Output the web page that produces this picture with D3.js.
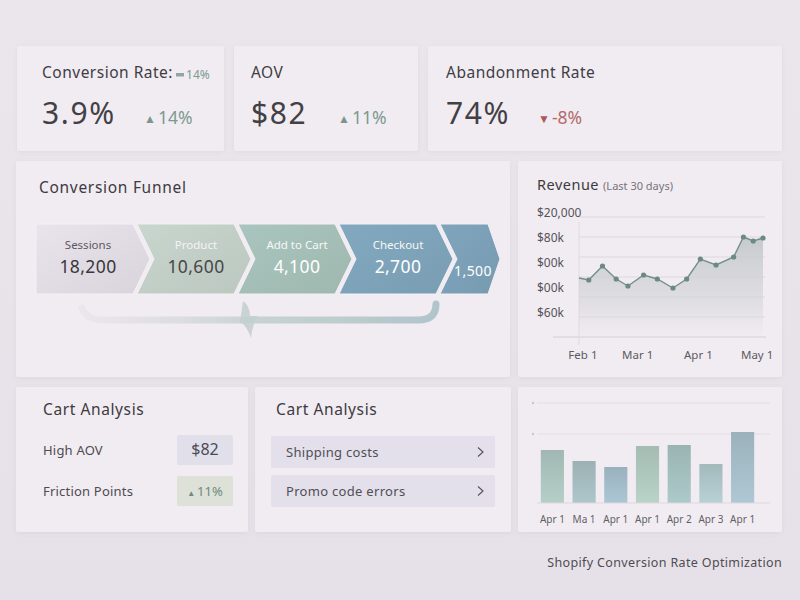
<!DOCTYPE html>
<html>
<head>
<meta charset="utf-8">
<script src="https://cdn.jsdelivr.net/npm/d3@7"></script>
<style>
  body { margin: 0; background: #e8e3e9; }
  svg { display: block; font-family: "Noto Sans", "Open Sans", sans-serif; }
</style>
</head>
<body>
<div id="dash"></div>
<script>
// ---- data ----
const kpiLabels = ["Conversion Rate:", "AOV", "Abandonment Rate"];
const kpiValues = ["3.9%", "$82", "74%"];
const kpiDeltas = ["14%", "11%", "-8%"];
const kpiUp = [true, true, false];

const funnelStages = ["Sessions", "Product", "Add to Cart", "Checkout", ""];
const funnelCounts = [18200, 10600, 4100, 2700, 1500];

const revenueDays = [-2, 3, 10, 17, 23, 31, 38, 46, 53, 60, 68, 77, 82, 87, 92];
const revenueValues = [59, 57, 71, 58, 51, 62, 58, 49, 58, 78, 72, 80, 100, 96, 99];
const revenueTickLabels = ["$20,000", "$80k", "$00k", "$00k", "$60k"];
const revenueXTicks = [0, 28, 59, 89];
const revenueXLabels = ["Feb 1", "Mar 1", "Apr 1", "May 1"];

const cartLabels = ["High AOV", "Friction Points"];
const cartValues = ["$82", "11%"];
const issueLabels = ["Shipping costs", "Promo code errors"];

const barLabels = ["Apr 1", "Ma 1", "Apr 1", "Apr 1", "Apr 2", "Apr 3", "Apr 1"];
const barValues = [53, 42, 36, 57, 58, 39, 71];
const barGrid = [69, 100];

// ---- svg ----
const width = 800, height = 600;
const svg = d3.select("#dash").append("svg")
  .attr("width", width).attr("height", height);

const defs = svg.append("defs");
const bg = defs.append("linearGradient").attr("id", "bg").attr("x1", 0).attr("y1", 0).attr("x2", 0).attr("y2", 1);
bg.append("stop").attr("offset", 0).attr("stop-color", "#ebe6ec");
bg.append("stop").attr("offset", 1).attr("stop-color", "#e6e1e8");

const shadow = defs.append("filter").attr("id", "shadow").attr("x", -0.1).attr("y", -0.1).attr("width", 1.2).attr("height", 1.3);
shadow.append("feDropShadow").attr("dx", 0).attr("dy", 1).attr("stdDeviation", 2)
  .attr("flood-color", "#8a7f90").attr("flood-opacity", 0.12);

svg.append("rect").attr("width", width).attr("height", height).attr("fill", "url(#bg)");

// cards
const cards = [
  [17, 46, 207, 105], [234, 46, 184, 105], [428, 46, 354, 105],
  [16, 161, 494, 216], [518, 161, 264, 216],
  [16, 387, 232, 145], [255, 387, 256, 145], [518, 387, 264, 145]
];
svg.append("g").selectAll("rect")
  .data(cards).join("rect")
  .attr("x", d => d[0]).attr("y", d => d[1])
  .attr("width", d => d[2]).attr("height", d => d[3])
  .attr("rx", 2)
  .attr("fill", "#f1ecf2")
  .attr("filter", "url(#shadow)");

// ---- KPI cards ----
const kpiX = d3.scaleOrdinal().domain(kpiLabels).range([42, 251, 446]);
const deltaX = d3.scaleOrdinal().domain(kpiLabels).range([144, 338, 538]);

const kpi = svg.append("g").selectAll("g").data(kpiLabels).join("g");
const kpiTitle = kpi.append("text")
  .attr("x", d => kpiX(d)).attr("y", 78)
  .attr("font-size", 15.5).attr("fill", "#403d44").attr("letter-spacing", 0.5)
  .text(d => d);
kpi.append("text")
  .attr("x", d => kpiX(d)).attr("y", 124)
  .attr("font-size", 30).attr("fill", "#434045").attr("letter-spacing", 1.6)
  .text((d, i) => kpiValues[i]);
const delta = kpi.append("text")
  .attr("x", d => deltaX(d)).attr("y", 124)
  .attr("font-size", 17.5)
  .attr("fill", (d, i) => kpiUp[i] ? "#7d9a90" : "#b26b6b");
delta.append("tspan").attr("font-size", 12).attr("dy", -1.5)
  .attr("fill", (d, i) => kpiUp[i] ? "#7d958d" : "#b05858")
  .text((d, i) => kpiUp[i] ? "▲" : "▼");
delta.append("tspan").attr("dy", 1.5).attr("dx", 2).text((d, i) => kpiDeltas[i]);

// small sub delta right after "Conversion Rate:"
const subX = kpiX(kpiLabels[0]) + kpiTitle.node().getComputedTextLength() + 3;
svg.append("rect").attr("x", subX).attr("y", 73).attr("width", 8).attr("height", 3.5).attr("fill", "#8fa89f");
svg.append("text").attr("x", subX + 10).attr("y", 79).attr("font-size", 12).attr("fill", "#7d9a90").text(kpiDeltas[0]);

// ---- Conversion funnel ----
svg.append("text").attr("x", 39).attr("y", 193).attr("font-size", 15.5).attr("fill", "#3d3a40")
  .attr("letter-spacing", 0.7).text("Conversion Funnel");

const fx = d3.scaleBand().domain(d3.range(funnelStages.length)).range([36, 36 + 101 * 5]).padding(0);
const fTop = 224, fBot = 294, fMid = (fTop + fBot) / 2, tip = 17, gap = 4, funnelEnd = 500;
const fColors = d3.scaleOrdinal().domain(d3.range(5)).range(["#dfdae2", "#c0cdc5", "#a3bdb5", "#7da2b8", "#7a9eb5"]);
const fLabelColor = ["#5b585e", "#f5f3f5", "#f7f7f7", "#f7f7f7", "#f7f7f7"];
const fValueColor = ["#39373b", "#48464a", "#ffffff", "#ffffff", "#ffffff"];

function chevron(i) {
  const x0 = fx(i);
  let x1 = x0 + fx.step() - gap;
  let t = tip;
  if (i === funnelStages.length - 1) { x1 = funnelEnd - 12; t = 12; }
  const left = i === 0 ? [[x0, fBot], [x0, fTop]] : [[x0, fBot], [x0 + tip, fMid], [x0, fTop]];
  const pts = [[x0, fTop], [x1, fTop], [x1 + t, fMid], [x1, fBot]].concat(left.slice(0, left.length - 1));
  return "M" + pts.map(p => p.join(",")).join("L") + "Z";
}
function segCenter(i) {
  if (i === funnelStages.length - 1) return (fx(i) + funnelEnd) / 2 + 3;
  return fx(i) + (fx.step() - gap + tip) / 2 + (i === 0 ? -5 : 2);
}

const fg = defs.selectAll("linearGradient.fseg").data(d3.range(5)).join("linearGradient")
  .attr("class", "fseg").attr("id", i => "fseg" + i)
  .attr("x1", 0).attr("y1", 0).attr("x2", 1).attr("y2", 1);
fg.append("stop").attr("offset", 0).attr("stop-color", i => d3.color(fColors(i)).brighter(0.12));
fg.append("stop").attr("offset", 1).attr("stop-color", i => d3.color(fColors(i)).darker(0.08));

const seg = svg.append("g").selectAll("g").data(funnelCounts).join("g");
seg.append("path").attr("d", (d, i) => chevron(i)).attr("fill", (d, i) => `url(#fseg${i})`)
  .attr("stroke", "#f4f0f5").attr("stroke-width", 1).attr("stroke-linejoin", "round");
seg.append("text")
  .attr("x", (d, i) => segCenter(i)).attr("y", 249)
  .attr("text-anchor", "middle").attr("font-size", 11.5)
  .attr("fill", (d, i) => fLabelColor[i])
  .text((d, i) => funnelStages[i]);
seg.append("text")
  .attr("x", (d, i) => segCenter(i)).attr("y", (d, i) => i === 4 ? 276 : 273)
  .attr("text-anchor", "middle").attr("font-size", (d, i) => i === 4 ? 14 : 17.5)
  .attr("letter-spacing", 0.4)
  .attr("fill", (d, i) => fValueColor[i])
  .text(d => d3.format(",")(d));

// swoosh below funnel
const sw = defs.append("linearGradient").attr("id", "swoosh").attr("x1", 0).attr("x2", 1);
sw.append("stop").attr("offset", 0).attr("stop-color", "#ddd8e0").attr("stop-opacity", 0.3);
sw.append("stop").attr("offset", 0.5).attr("stop-color", "#c3d0cd").attr("stop-opacity", 0.9);
sw.append("stop").attr("offset", 1).attr("stop-color", "#a9c0c6").attr("stop-opacity", 0.9);
const swPath = d3.path();
swPath.moveTo(82, 308);
swPath.quadraticCurveTo(86, 320, 104, 320);
swPath.lineTo(418, 320);
swPath.quadraticCurveTo(436, 320, 436, 304);
svg.append("path").attr("d", swPath.toString()).attr("fill", "none")
  .attr("stroke", "url(#swoosh)").attr("stroke-width", 7).attr("stroke-linecap", "round");
const spike = d3.path();
spike.moveTo(243, 301);
spike.quadraticCurveTo(250, 306, 250, 316);
spike.lineTo(258, 316);
spike.quadraticCurveTo(252, 326, 251, 338);
spike.quadraticCurveTo(247, 326, 240, 322);
spike.closePath();
svg.append("path").attr("d", spike.toString()).attr("fill", "#c2d0cd").attr("opacity", 0.85);

// ---- Revenue line chart ----
const rev = svg.append("text").attr("x", 537).attr("y", 190).attr("fill", "#3d3a40");
rev.append("tspan").attr("font-size", 14.5).attr("letter-spacing", 0.5).text("Revenue");
rev.append("tspan").attr("font-size", 11).attr("fill", "#77737a").attr("dx", 4).text("(Last 30 days)");

const rx = d3.scaleLinear().domain([-2, 92]).range([579, 763]);
const ry = d3.scaleLinear().domain([0, 120]).range([337, 217]);
const rTick = d3.scalePoint().domain(d3.range(revenueTickLabels.length)).range([213, 313]);

svg.append("g").selectAll("line").data(ry.ticks(6).filter(d => d > 0)).join("line")
  .attr("x1", 579).attr("x2", 765)
  .attr("y1", d => ry(d)).attr("y2", d => ry(d))
  .attr("stroke", "#dcd7de").attr("stroke-width", 1);
svg.append("line").attr("x1", 553).attr("x2", 766).attr("y1", ry(0)).attr("y2", ry(0))
  .attr("stroke", "#d2ced5").attr("stroke-width", 1.2);
svg.append("line").attr("x1", 579).attr("x2", 579).attr("y1", 222).attr("y2", 345)
  .attr("stroke", "#dedade").attr("stroke-width", 1);

svg.append("g").selectAll("text").data(revenueTickLabels).join("text")
  .attr("x", 537).attr("y", (d, i) => rTick(i) + 4)
  .attr("font-size", 12).attr("fill", "#57545a")
  .text(d => d);

svg.append("g").selectAll("text").data(revenueXTicks).join("text")
  .attr("x", d => rx(d)).attr("y", 359)
  .attr("text-anchor", "middle").attr("font-size", 11.5).attr("fill", "#5d5a60")
  .text((d, i) => revenueXLabels[i]);

const ag = defs.append("linearGradient").attr("id", "area").attr("x1", 0).attr("y1", 0).attr("x2", 0).attr("y2", 1);
ag.append("stop").attr("offset", 0).attr("stop-color", "#c4c8c9").attr("stop-opacity", 0.95);
ag.append("stop").attr("offset", 0.7).attr("stop-color", "#d4d5d8").attr("stop-opacity", 0.55);
ag.append("stop").attr("offset", 1).attr("stop-color", "#e6e1e8").attr("stop-opacity", 0.1);

const revData = revenueDays.map((d, i) => ({ day: d, value: revenueValues[i] }));
svg.append("path").datum(revData)
  .attr("d", d3.area().x(d => rx(d.day)).y0(ry(0)).y1(d => ry(d.value)))
  .attr("fill", "url(#area)");
svg.append("path").datum(revData)
  .attr("d", d3.line().x(d => rx(d.day)).y(d => ry(d.value)))
  .attr("fill", "none").attr("stroke", "#72908a").attr("stroke-width", 1.4);
svg.append("g").selectAll("circle").data(revData.slice(1)).join("circle")
  .attr("cx", d => rx(d.day)).attr("cy", d => ry(d.value)).attr("r", 2.6)
  .attr("fill", "#6b8a82");

// ---- Cart analysis (left) ----
svg.append("text").attr("x", 43).attr("y", 415).attr("font-size", 15.5).attr("fill", "#3d3a40")
  .attr("letter-spacing", 0.6).text("Cart Analysis");
const cy = d3.scalePoint().domain(cartLabels).range([450, 491]);
const cart = svg.append("g").selectAll("g").data(cartLabels).join("g");
cart.append("text").attr("x", 43).attr("y", d => cy(d) + 5)
  .attr("font-size", 13).attr("fill", "#4e4b51").attr("letter-spacing", 0.2).text(d => d);
cart.append("rect").attr("x", 177).attr("y", d => cy(d) - 15)
  .attr("width", 56).attr("height", 30).attr("rx", 2)
  .attr("fill", (d, i) => i === 0 ? "#e1dfea" : "#dde1d8");
const cv = cart.append("text").attr("x", 205).attr("y", (d, i) => cy(d) + 5)
  .attr("text-anchor", "middle")
  .attr("font-size", (d, i) => i === 0 ? 16 : 13)
  .attr("fill", (d, i) => i === 0 ? "#4a4a55" : "#6e8a80");
cv.append("tspan").attr("font-size", 8).text((d, i) => i === 0 ? "" : "▲");
cv.append("tspan").attr("dx", (d, i) => i === 0 ? 0 : 2).text((d, i) => cartValues[i]);

// ---- Cart analysis (right) ----
svg.append("text").attr("x", 276).attr("y", 415).attr("font-size", 15.5).attr("fill", "#3d3a40")
  .attr("letter-spacing", 0.6).text("Cart Analysis");
const iy = d3.scalePoint().domain(issueLabels).range([452, 491]);
const issue = svg.append("g").selectAll("g").data(issueLabels).join("g");
issue.append("rect").attr("x", 271).attr("y", d => iy(d) - 16)
  .attr("width", 224).attr("height", 32).attr("rx", 2).attr("fill", "#e3e0eb");
issue.append("text").attr("x", 286).attr("y", d => iy(d) + 5)
  .attr("font-size", 13).attr("fill", "#514e55").attr("letter-spacing", 0.3).text(d => d);
issue.append("path")
  .attr("d", d => `M478,${iy(d) - 4.5}L483,${iy(d)}L478,${iy(d) + 4.5}`)
  .attr("fill", "none").attr("stroke", "#5a575e").attr("stroke-width", 1.2);

// ---- Bar chart ----
const bx = d3.scaleBand().domain(d3.range(barLabels.length)).range([537, 758]).paddingInner(0.27).paddingOuter(0.12);
const by = d3.scaleLinear().domain([0, 100]).range([503, 403]);
const barColors = ["#a6bdb7", "#9fb6b9", "#9db6c2", "#a9c1b7", "#9db9b8", "#a8bfc2", "#9fb7c1"];

svg.append("g").selectAll("line").data(barGrid).join("line")
  .attr("x1", 537).attr("x2", 770).attr("y1", d => by(d)).attr("y2", d => by(d))
  .attr("stroke", "#e3dee5");
svg.append("g").selectAll("circle").data(barGrid).join("circle")
  .attr("cx", 533).attr("cy", d => by(d)).attr("r", 1.2).attr("fill", "#c9c4cc");

const bg2 = defs.selectAll("linearGradient.bar").data(barColors).join("linearGradient")
  .attr("class", "bar").attr("id", (d, i) => "bar" + i)
  .attr("x1", 0).attr("y1", 0).attr("x2", 0).attr("y2", 1);
bg2.append("stop").attr("offset", 0).attr("stop-color", d => d3.color(d).darker(0.08));
bg2.append("stop").attr("offset", 1).attr("stop-color", d => d3.color(d).brighter(0.25));

svg.append("g").selectAll("rect").data(barValues).join("rect")
  .attr("x", (d, i) => bx(i)).attr("y", d => by(d))
  .attr("width", bx.bandwidth()).attr("height", d => by(0) - by(d))
  .attr("fill", (d, i) => `url(#bar${i})`);
svg.append("line").attr("x1", 537).attr("x2", 770).attr("y1", by(0)).attr("y2", by(0))
  .attr("stroke", "#dcd7de");
svg.append("g").selectAll("text").data(barLabels).join("text")
  .attr("x", (d, i) => bx(i) + bx.bandwidth() / 2).attr("y", 523)
  .attr("text-anchor", "middle").attr("font-size", 10).attr("fill", "#625f66")
  .text(d => d);

// footer
svg.append("text").attr("x", 782).attr("y", 567).attr("text-anchor", "end")
  .attr("font-size", 12.5).attr("fill", "#4f4c52").attr("letter-spacing", 0.35)
  .text("Shopify Conversion Rate Optimization");
</script>
</body>
</html>
